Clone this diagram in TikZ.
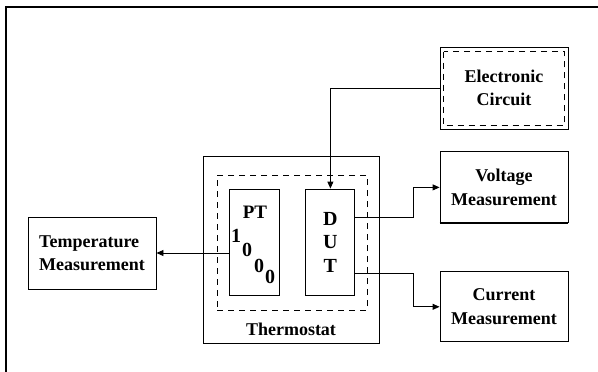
\documentclass[tikz,border=0pt]{standalone}
\usepackage{fontspec}
\setmainfont{Liberation Serif}
\usepackage{tikz}
\usetikzlibrary{positioning,arrows.meta}

\begin{document}
\begin{tikzpicture}[
    x=1pt, y=-1pt,
    node distance=22pt and 26pt,
    box/.style={rectangle, draw=black, line width=0.9pt, align=center, minimum width=128pt, font=\fontsize{18}{23.5}\selectfont\bfseries},
    inbox/.style={rectangle, draw=black, line width=0.9pt, align=center, minimum width=50pt, minimum height=106pt, font=\fontsize{20}{23.5}\selectfont\bfseries},
    dashbox/.style={rectangle, draw=black, line width=0.9pt, dash pattern=on 6pt off 5pt},
    lbl/.style={inner sep=0pt, font=\fontsize{18}{23.5}\selectfont\bfseries},
    conn/.style={-{Triangle[length=7pt,width=6pt]}, line width=0.9pt}
  ]
    \useasboundingbox (0,0) rectangle (598,372);
    \draw[line width=1.6pt] (6,372) -- (6,7) -- (598,7);

    \node[rectangle, draw=black, line width=0.9pt, minimum width=176pt, minimum height=187pt] (therm) at (291,249.5) {};
    \node[lbl, above=8pt of therm.south] (thermlbl) {Thermostat};
    \node[dashbox, minimum width=150pt, minimum height=135pt] (encl) at (292,242.5) {};

    \node[inbox] (pt) at (254,242) {};
    \node[inbox, minimum width=49pt, right=26pt of pt] (dut) {D\\U\\T};
    \node[lbl, font=\fontsize{19}{23.5}\selectfont\bfseries] (ptlbl) at (255,212) {PT};
    \foreach \d/\x/\y [count=\i] in {1/236/236, 0/247/250, 0/259/266, 0/270/277}
      \node[lbl, font=\fontsize{20}{23.5}\selectfont\bfseries] (dig\i) at (\x,\y) {\d};

    \node[box, align=left, minimum height=72pt] (temp) at (92,253) {Temperature\\Measurement};

    \node[box, minimum height=82pt] (ec) at (504,88) {Electronic\\Circuit};
    \draw[dashbox] ([shift={(4,5)}]ec.north west) rectangle ([shift={(-4,-4)}]ec.south east);
    \node[box, minimum height=71pt, below=22pt of ec] (volt) {Voltage\\Measurement};
    \draw[line width=2pt] (volt.south west) -- (volt.south east);
    \node[box, minimum height=70pt, below=48pt of volt] (curr) {Current\\Measurement};

    \draw[conn] (ec.west) -| (dut.north);
    \draw[conn] ([yshift=25pt]dut.east) -- ++(58pt,0) |- (volt.west);
    \draw[conn] ([yshift=-31pt]dut.east) -- ++(58pt,0) |- (curr.west);
    \draw[conn] (pt.west |- temp.east) -- (temp.east);
  \end{tikzpicture}
\end{document}
